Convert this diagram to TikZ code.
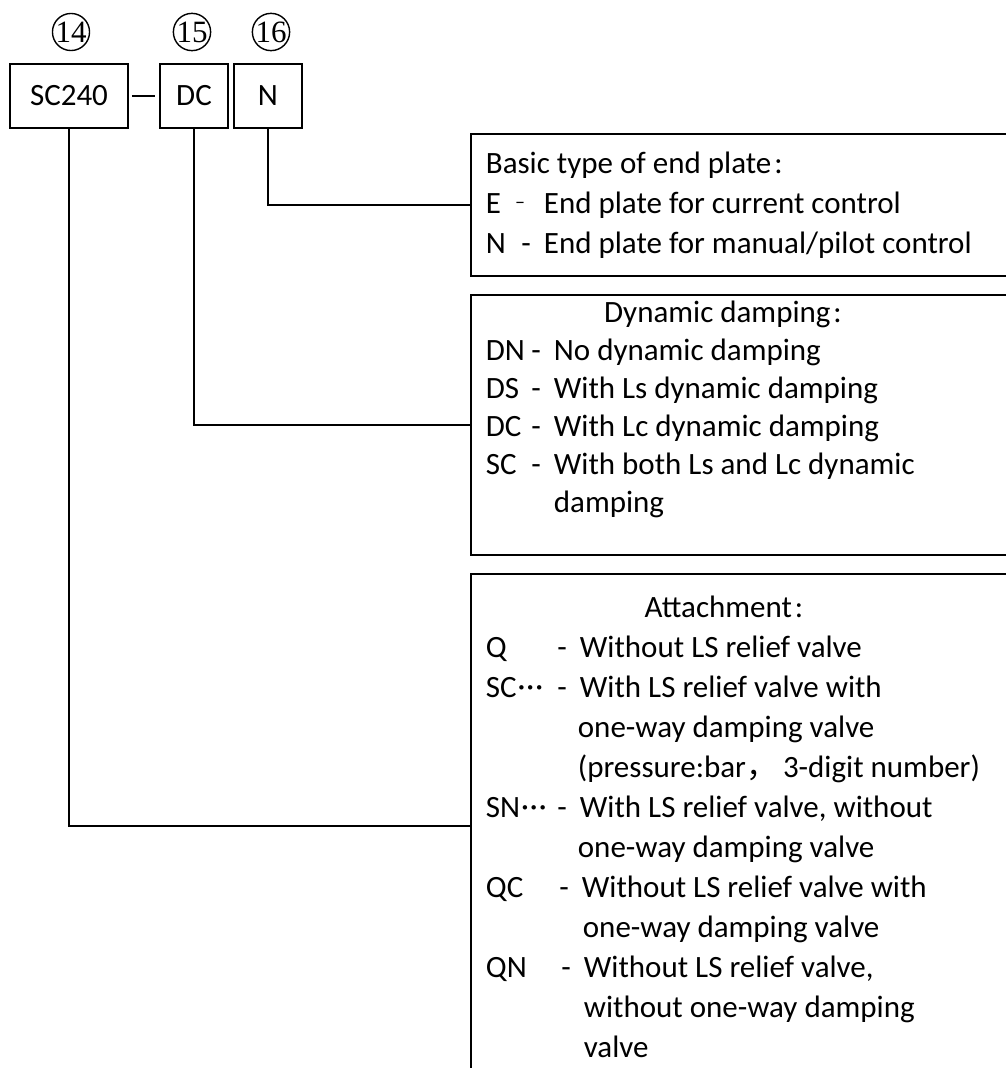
\documentclass[tikz,border=0pt]{standalone}
\usepackage{fontspec}
\setmainfont{Carlito}
\newfontfamily\cjkfont{Noto Sans CJK SC}
\newfontfamily\numfont{Liberation Serif}
\usepackage{tikz}
\usepackage{xcolor}
\usetikzlibrary{positioning, calc}
\definecolor{CodeInk}{HTML}{000000}
\newcommand{\opt}[3]{\makebox[#1][l]{#2\hfill-\hspace{13pt}}#3}
\newcommand{\cont}[2]{\hspace*{#1}#2}
\newcommand{\middots}{\kern1pt\raisebox{1pt}{·\kern1pt·\kern1pt·}}
\newcommand{\wcolon}{\kern3pt:}

\begin{document}
\begin{tikzpicture}[
    x=1pt, y=-1pt,
    line width=1.8pt,
    codebox/.style={
      draw=CodeInk,
      minimum height=64pt,
      inner sep=0pt,
      font=\fontsize{31}{40}\selectfont,
    },
    circnum/.style={
      circle,
      draw=CodeInk,
      line width=1.4pt,
      minimum size=37pt,
      inner sep=0pt,
      font=\numfont\fontsize{31}{31}\selectfont,
    },
    frame/.style={
      draw=CodeInk,
      anchor=north west,
      minimum width=560pt,
      inner sep=0pt,
    },
    desc/.style={
      anchor=north west,
      inner sep=0pt,
      align=left,
      font=\fontsize{31}{40}\selectfont,
    },
    head/.style={
      anchor=base,
      inner sep=0pt,
      font=\fontsize{31}{40}\selectfont,
    },
  ]
    \useasboundingbox (0,0) rectangle (1006,1068);
    \clip (0,0) rectangle (1006,1068);

    \node[codebox, minimum width=118pt] (sc) at (69,96) {SC240};
    \node[codebox, minimum width=68pt] (dc) at (194,96) {DC};
    \node[codebox, minimum width=68pt] (n) at (268,96) {N};
    \draw ([xshift=3pt]sc.east) -- ([xshift=-4pt]dc.west);

    \node[circnum] (c14) at (71,32) {14};
    \node[circnum] (c15) at (192,32) {15};
    \node[circnum] (c16) at (271,32) {16};

    \node[frame, minimum height=142pt] (plate) at (470,133) {};
    \node[frame, minimum height=260pt] (damp) at (470,294) {};
    \node[frame, minimum height=504pt] (attach) at (470,573) {};

    \draw (n.south) |- (plate.west);
    \draw (dc.south) |- (damp.west);
    \draw (sc.south) |- (attach.west);

    \node[desc] (platetext) at (485,145) {%
      \strut Basic type of end plate\wcolon\\
      \makebox[58pt][l]{E\hspace{14pt}\raisebox{5pt}{\fontsize{20}{20}\selectfont –}}End plate for current control\\
      \opt{58pt}{N}{End plate for manual/pilot control}%
    };

    \node[head] (damptitle) at (723,322) {Dynamic damping\wcolon};
    \node[desc, font=\fontsize{31}{38}\selectfont] (damptext) at (485,333) {%
      \strut\opt{68pt}{DN}{No dynamic damping}\\
      \opt{68pt}{DS}{With Ls dynamic damping}\\
      \opt{68pt}{DC}{With Lc dynamic damping}\\
      \opt{68pt}{SC}{With both Ls and Lc dynamic}\\
      \cont{68pt}{damping}%
    };

    \node[head] (attachtitle) at (724,617) {Attachment\wcolon};
    \node[desc] (attachtext) at (485,629) {%
      \strut\opt{94pt}{Q}{Without LS relief valve}\\
      \opt{94pt}{SC\middots}{With LS relief valve with}\\
      \cont{92pt}{one-way damping valve}\\
      \cont{92pt}{(pressure:bar{\cjkfont ，}\hspace{6pt}3-digit number)}\\
      \opt{94pt}{SN\middots}{With LS relief valve, without}\\
      \cont{92pt}{one-way damping valve}\\
      \opt{96pt}{QC}{Without LS relief valve with}\\
      \cont{97pt}{one-way damping valve}\\
      \opt{98pt}{QN}{Without LS relief valve,}\\
      \cont{98pt}{without one-way damping}\\
      \cont{98pt}{valve}%
    };
  \end{tikzpicture}
\end{document}
